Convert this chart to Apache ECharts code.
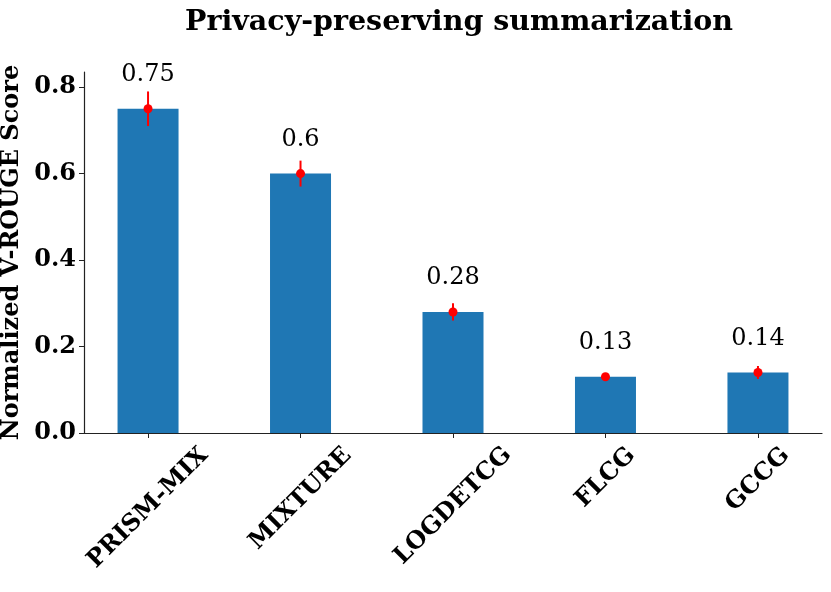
<!DOCTYPE html>
<html>
<head>
<meta charset="utf-8">
<script src="https://cdn.jsdelivr.net/npm/echarts@6/dist/echarts.min.js"></script>
<style>
  html, body { margin: 0; padding: 0; background: #fff; }
  #chart { width: 831px; height: 592px; }
</style>
</head>
<body>
<div id="chart"></div>
<script>
// values
const methods = ["PRISM-MIX", "MIXTURE", "LOGDETCG", "FLCG", "GCCG"];
const scores = [0.75, 0.6, 0.28, 0.13, 0.14];
const errs = [0.04, 0.03, 0.02, 0.005, 0.015];
const yTicks = [0, 0.2, 0.4, 0.6, 0.8];

const serif = "'DejaVu Serif', 'Liberation Serif', serif";
const labelSize = 24;
const chart = echarts.init(document.getElementById("chart"));

// rotated x labels are centred under the tick (like matplotlib ha='center'),
// so each one is pushed down by half its own length through rich padding
const ctx = document.createElement("canvas").getContext("2d");
ctx.font = "bold " + labelSize + "px " + serif;
const rich = {};
methods.forEach((m, i) => {
  const w = ctx.measureText(m).width;
  const d = 12 + 0.354 * (w + labelSize * 0.75);
  const p = Math.round(1.414 * d);
  rich["l" + i] = {
    fontFamily: serif, fontWeight: "bold", fontSize: labelSize, color: "#000",
    padding: [p, p, 0, 0]
  };
});

const errorItem = (params, api) => {
  const x = api.value(0);
  const lo = api.coord([x, api.value(1) - api.value(2)]);
  const hi = api.coord([x, api.value(1) + api.value(2)]);
  const mid = api.coord([x, api.value(1)]);
  return {
    type: "group",
    children: [
      { type: "line", shape: { x1: hi[0], y1: hi[1], x2: lo[0], y2: lo[1] },
        style: { stroke: "#ff0000", lineWidth: 2 } },
      { type: "circle", shape: { cx: mid[0], cy: mid[1], r: 4.5 },
        style: { fill: "#ff0000" } }
    ]
  };
};

const option = {
  animation: false,
  title: {
    text: "Privacy-preserving summarization",
    left: 454, top: 3, textAlign: "center",
    textStyle: { fontFamily: serif, fontWeight: "bold", fontSize: 28.5, color: "#000" }
  },
  grid: { left: 84, right: 9, top: 72, bottom: 159, outerBoundsMode: "none", containLabel: false },
  xAxis: {
    type: "value",
    min: -0.42, max: 4.42,
    splitLine: { show: false },
    axisLine: { onZero: false, lineStyle: { color: "#222", width: 1.2 } },
    axisTick: { show: true, customValues: [0, 1, 2, 3, 4], length: 5, lineStyle: { color: "#222" } },
    axisLabel: {
      customValues: [0, 1, 2, 3, 4],
      rotate: 45, margin: 0,
      align: "center", verticalAlign: "middle",
      rich: rich,
      formatter: v => {
        const i = Math.round(v);
        return "{l" + i + "|" + methods[i] + "}";
      }
    }
  },
  yAxis: {
    type: "value",
    min: 0, max: 0.835,
    name: "Normalized V-ROUGE Score",
    nameLocation: "middle", nameGap: 50,
    nameTextStyle: { fontFamily: serif, fontWeight: "bold", fontSize: 24, color: "#000" },
    splitLine: { show: false },
    axisLine: { show: true, onZero: false, lineStyle: { color: "#222", width: 1.2 } },
    axisTick: { show: true, customValues: yTicks, length: 5, lineStyle: { color: "#222" } },
    axisLabel: {
      customValues: yTicks, margin: 8,
      fontFamily: serif, fontWeight: "bold", fontSize: 24, color: "#000",
      formatter: v => v.toFixed(1)
    }
  },
  series: [
    {
      type: "bar",
      barWidth: 61,
      itemStyle: { color: "#1f77b4" },
      data: methods.map((m, i) => [i, scores[i]]),
      label: {
        show: true, position: "top", distance: 22,
        fontFamily: serif, fontSize: 24, color: "#000",
        formatter: p => String(scores[p.dataIndex])
      }
    },
    {
      type: "custom",
      renderItem: errorItem,
      data: methods.map((m, i) => [i, scores[i], errs[i]]),
      z: 5
    }
  ]
};
chart.setOption(option);
</script>
</body>
</html>
